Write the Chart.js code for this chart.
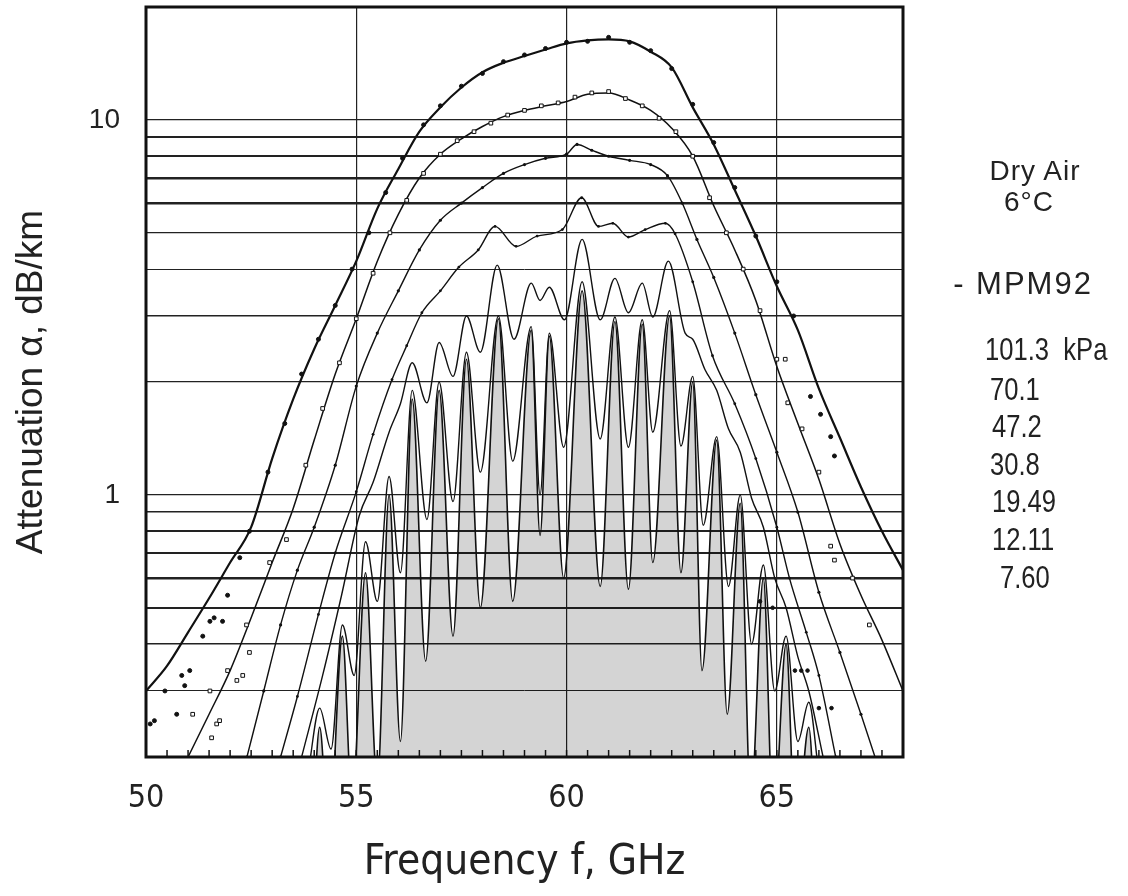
<!DOCTYPE html>
<html lang="en">
<head>
    <meta charset="UTF-8">
    <title>Dry Air 6°C - 60 GHz O2 band attenuation</title>
    <script src="https://cdn.jsdelivr.net/npm/chart.js"></script>
    <style>
        body { margin: 0; background: #fff; }
        #wrap { position: relative; width: 1128px; height: 896px; }
        .note { position: absolute; color: #222; white-space: pre; font-family: 'Liberation Sans', Arial, sans-serif; }
        .wide { font-size: 28px; line-height: 28px; letter-spacing: 1px; width: 200px; text-align: center; }
        .narrow { font-size: 32px; line-height: 32px; transform: scaleX(0.8); transform-origin: 0 0; }
    </style>
</head>
<body>
<div id="wrap">
    <canvas id="attChart" width="1128" height="896"></canvas>
    <div class="note wide" style="left:935px; top:157px;">Dry Air</div>
    <div class="note wide" style="left:929px; top:188px;">6°C</div>
    <div class="note wide" style="left:923px; top:268px; font-size:31px; line-height:31px; letter-spacing:2px;">- MPM92</div>
    <div id="plabels"></div>
</div>

<script>
    // axis ticks
    var freqTicks = [50, 55, 60, 65];
    var attTicks = [0.2, 0.3, 0.4, 0.5, 0.6, 0.7, 0.8, 0.9, 1, 2, 3, 4, 5, 6, 7, 8, 9, 10, 20];
    var attLabels = [1, 10];
    var minorFreq = [50.5, 51, 51.5, 52, 52.5, 53, 53.5, 54, 54.5, 55, 55.5, 56, 56.5, 57, 57.5, 58, 58.5,
        59, 59.5, 60, 60.5, 61, 61.5, 62, 62.5, 63, 63.5, 64, 64.5, 65, 65.5, 66, 66.5, 67, 67.5];

    // pressures of the curves, kPa (top curve first)
    var pressures = ['101.3  kPa', '70.1', '47.2', '30.8', '19.49', '12.11', '7.60'];

    // MPM92 model curves: [frequency GHz, attenuation dB/km]
    var mpm101 = [[50.0,0.30],[50.5,0.35],[51.0,0.43],[51.5,0.53],[52.0,0.66],[52.5,0.82],[53.0,1.25],[53.5,1.8],
        [54.0,2.45],[54.5,3.2],[55.0,4.2],[55.5,5.8],[56.0,7.4],[56.5,9.3],[57.0,10.8],[57.5,12.2],[58.0,13.4],
        [58.5,14.2],[59.0,14.8],[59.5,15.4],[60.0,16.0],[60.5,16.3],[61.0,16.4],[61.5,16.2],[62.0,15.2],[62.5,13.8],
        [63.0,10.8],[63.5,8.6],[64.0,6.5],[64.5,4.9],[65.0,3.6],[65.5,2.75],[66.0,1.92],[66.5,1.42],[67.0,1.05],
        [67.5,0.8],[68.0,0.63]];
    var mpm70 = [[51.0,0.2],[51.5,0.26],[52.0,0.34],[52.5,0.47],[53.0,0.66],[53.5,0.92],[54.0,1.4],[54.5,2.1],
        [55.0,2.95],[55.5,4.2],[56.0,5.6],[56.5,7.0],[57.0,8.1],[57.5,8.9],[58.0,9.6],[58.5,10.2],[59.0,10.6],
        [59.5,10.9],[60.0,11.2],[60.5,11.7],[61.0,11.8],[61.5,11.3],[62.0,10.6],[62.5,9.5],[63.0,8.0],[63.5,5.9],
        [64.0,4.5],[64.5,3.3],[65.0,2.2],[65.5,1.55],[66.0,1.1],[66.5,0.74],[67.0,0.54],[67.5,0.41],[68.0,0.3]];
    var mpm47 = [[52.4,0.2],[52.8,0.3],[53.2,0.45],[53.6,0.63],[54.0,0.82],[54.5,1.2],[55.0,1.95],[55.5,2.7],
        [56.0,3.5],[56.5,4.5],[57.0,5.4],[57.5,6.0],[58.0,6.6],[58.5,7.2],[59.0,7.6],[59.5,7.9],[60.0,8.1],
        [60.25,8.6],[60.6,8.3],[61.0,8.0],[61.5,7.8],[62.0,7.6],[62.4,7.1],[62.75,6.0],[63.1,4.8],[63.5,3.8],
        [64.0,2.7],[64.5,1.85],[65.0,1.3],[65.5,0.9],[66.0,0.55],[66.5,0.38],[67.0,0.26],[67.4,0.19]];
    var mpm30 = [[53.2,0.2],[53.6,0.29],[54.1,0.48],[54.5,0.7],[55.0,1.02],[55.4,1.45],[55.85,2.03],[56.2,2.5],
        [56.56,3.06],[57.0,3.5],[57.44,4.05],[57.9,4.5],[58.3,5.2],[58.8,4.6],[59.3,4.9],[59.9,5.1],[60.36,6.2],
        [60.76,5.2],[61.1,5.3],[61.47,4.87],[61.87,5.1],[62.35,5.3],[62.58,4.97],[63.0,3.7],[63.47,2.35],
        [64.0,1.75],[64.5,1.25],[65.0,0.82],[65.3,0.6],[65.7,0.43],[66.0,0.33],[66.4,0.2]];
    var mpm19 = [[53.7,0.2],[54.2,0.33],[54.65,0.54],[55.07,0.88],[55.4,1.08],[55.78,1.47],[56.05,1.75],
        [56.33,2.25],[56.68,1.76],[56.97,2.55],[57.3,2.07],[57.62,3.0],[57.95,2.4],[58.35,4.1],[58.75,2.6],
        [59.16,3.67],[59.37,3.3],[59.59,3.58],[59.95,2.93],[60.37,4.8],[60.8,2.93],[61.15,3.78],[61.47,3.06],
        [61.8,3.67],[62.05,2.98],[62.42,4.2],[62.82,2.7],[63.0,2.6],[63.29,2.16],[63.57,1.9],[63.85,1.5],
        [64.13,1.3],[64.4,0.98],[64.68,0.82],[64.95,0.6],[65.22,0.5],[65.5,0.37],[65.76,0.3],[66.1,0.2]];
    var mpm12 = [[53.85,0.18],[54.13,0.27],[54.4,0.21],[54.67,0.45],[54.95,0.33],[55.22,0.75],[55.5,0.52],
        [55.78,1.12],[56.05,0.62],[56.33,1.9],[56.68,0.86],[56.97,2.0],[57.3,0.96],[57.62,2.4],[57.95,1.15],
        [58.38,3.0],[58.72,1.23],[59.16,2.81],[59.37,1.0],[59.59,2.7],[59.93,1.34],[60.37,3.7],[60.8,1.41],
        [61.15,2.98],[61.47,1.34],[61.8,2.93],[62.05,1.47],[62.45,3.1],[62.72,1.35],[63.0,2.07],[63.25,0.83],
        [63.57,1.43],[63.85,0.57],[64.13,1.0],[64.4,0.4],[64.68,0.65],[64.95,0.3],[65.22,0.42],[65.5,0.22],
        [65.76,0.28],[66.0,0.18]];
    var mpm7 = [[53.95,0.12],[54.13,0.24],[54.35,0.12],[54.67,0.42],[54.9,0.15],[55.22,0.62],[55.5,0.17],
        [55.78,1.0],[56.05,0.22],[56.33,1.8],[56.65,0.36],[56.97,1.9],[57.3,0.42],[57.62,2.3],[57.95,0.5],
        [58.38,2.95],[58.72,0.52],[59.16,2.75],[59.37,0.78],[59.59,2.65],[59.93,0.6],[60.37,3.5],[60.8,0.57],
        [61.15,2.9],[61.47,0.56],[61.8,2.85],[62.05,0.66],[62.45,3.0],[62.72,0.62],[63.0,2.0],[63.22,0.34],
        [63.57,1.4],[63.82,0.26],[64.13,0.95],[64.38,0.15],[64.68,0.6],[64.92,0.13],[65.22,0.4],[65.45,0.12],
        [65.76,0.24],[65.95,0.1]];

    // measured points
    var meas101 = [[50.1,0.245],[50.2,0.25],[50.45,0.30],[50.73,0.26],[50.85,0.33],[50.92,0.31],[51.04,0.34],
        [51.35,0.42],[51.52,0.46],[51.62,0.47],[51.82,0.46],[51.94,0.54],[52.23,0.68],[52.46,0.8],[52.9,1.15],
        [53.3,1.55],[53.7,2.1],[54.1,2.6],[54.5,3.2],[54.9,4.0],[55.3,5.0],[55.7,6.4],[56.1,7.9],[56.6,9.7],
        [57.0,10.9],[57.5,12.3],[58.0,13.3],[58.5,14.3],[59.0,14.9],[59.5,15.5],[60.0,16.1],[60.5,16.2],
        [61.0,16.6],[61.5,16.1],[62.0,15.3],[62.5,13.7],[63.0,11.0],[63.5,8.7],[64.0,6.6],[64.5,4.9],[65.0,3.7],
        [65.4,3.0],[65.8,1.83],[66.04,1.64],[66.28,1.43],[66.37,1.27]];
    var meas70 = [[51.11,0.26],[51.52,0.30],[51.56,0.225],[51.68,0.245],[51.75,0.25],[51.94,0.34],[52.16,0.32],
        [52.3,0.33],[52.39,0.45],[52.46,0.38],[52.94,0.66],[53.34,0.76],[53.8,1.2],[54.2,1.7],[54.6,2.25],
        [55.0,2.95],[55.4,3.9],[55.8,5.0],[56.2,6.1],[56.6,7.2],[57.0,8.1],[57.4,8.8],[57.8,9.3],[58.2,9.8],
        [58.6,10.3],[59.0,10.6],[59.4,10.9],[59.8,11.1],[60.2,11.5],[60.6,11.8],[61.0,11.9],[61.4,11.4],
        [61.8,10.9],[62.2,10.1],[62.6,9.3],[63.0,8.0],[63.4,6.2],[63.8,5.0],[64.2,4.0],[64.6,3.1],[65.0,2.3],
        [65.2,2.3],[65.26,1.76],[65.6,1.5],[66.0,1.15],[66.28,0.73],[66.37,0.67],[66.8,0.6],[67.2,0.45]];
    var meas47 = [[65.43,0.34],[65.58,0.34],[65.73,0.34],[66.0,0.27],[66.3,0.27],[64.6,0.52],[64.9,0.5]];

    var gridWidth = {0.3: 1, 0.4: 1.5, 0.5: 2, 0.6: 2.5, 0.7: 2, 0.8: 2, 0.9: 1.5, 1: 1.2, 2: 1.2, 3: 1.5,
        4: 1, 5: 1.2, 6: 2.5, 7: 2.5, 8: 2, 9: 2, 10: 1.2};

    var narrowFont = "'DejaVu Sans Condensed', 'Liberation Sans', sans-serif";
    var plainFont = "'Liberation Sans', Arial, sans-serif";

    function toXY(arr) {
        return arr.map(function (p) { return {x: p[0], y: p[1]}; });
    }

    function curve(arr, width, extra) {
        var ds = {
            data: toXY(arr),
            borderColor: '#111',
            borderWidth: width,
            pointRadius: 0,
            cubicInterpolationMode: 'monotone',
            fill: false
        };
        return Object.assign(ds, extra || {});
    }

    function points(arr, style, radius, bg) {
        return {
            data: toXY(arr),
            showLine: false,
            pointStyle: style,
            pointRadius: radius,
            pointBorderWidth: 1,
            pointBorderColor: '#111',
            pointBackgroundColor: bg
        };
    }

    // frame and inner minor ticks on the frequency axis
    var framePlugin = {
        id: 'frame',
        afterDraw: function (chart) {
            var ctx = chart.ctx, a = chart.chartArea, x = chart.scales.x;
            ctx.save();
            ctx.strokeStyle = '#111';
            ctx.lineWidth = 1.5;
            minorFreq.forEach(function (f) {
                var px = x.getPixelForValue(f);
                ctx.beginPath();
                ctx.moveTo(px, a.bottom);
                ctx.lineTo(px, a.bottom - 7);
                ctx.stroke();
            });
            ctx.lineWidth = 3;
            ctx.strokeRect(a.left, a.top, a.right - a.left, a.bottom - a.top);
            ctx.restore();
        }
    };

    var ctx = document.getElementById('attChart').getContext('2d');
    var attChart = new Chart(ctx, {
        type: 'line',
        data: {
            datasets: [
                points(meas101, 'circle', 2, '#111'),
                points(meas70, 'rect', 2.6, '#fff'),
                points(meas47, 'circle', 1.8, '#111'),
                curve(mpm101, 2.2),
                curve(mpm70, 1.5),
                curve(mpm47, 1.4, {pointRadius: 1.6, pointBackgroundColor: '#111', pointBorderWidth: 0}),
                curve(mpm30, 1.4, {pointRadius: 1.4, pointBackgroundColor: '#111', pointBorderWidth: 0}),
                curve(mpm19, 1.4),
                curve(mpm12, 1.4),
                curve(mpm7, 1.6, {fill: 'start', backgroundColor: 'rgba(0,0,0,0.17)'})
            ]
        },
        options: {
            responsive: false,
            animation: false,
            layout: { padding: { top: 7, right: 225, bottom: 0, left: 0 } },
            plugins: {
                legend: { display: false },
                tooltip: { enabled: false }
            },
            scales: {
                x: {
                    type: 'linear',
                    min: 50,
                    max: 68,
                    afterBuildTicks: function (scale) {
                        scale.ticks = freqTicks.map(function (v) { return {value: v}; });
                    },
                    afterFit: function (scale) {
                        scale.height = 139;
                        scale.paddingLeft = 0;
                        scale.paddingRight = 0;
                    },
                    border: { display: false },
                    grid: {
                        drawTicks: false,
                        color: function (c) { return c.tick && c.tick.value === 50 ? 'rgba(0,0,0,0)' : '#222'; },
                        lineWidth: 1.2
                    },
                    ticks: {
                        padding: 22,
                        color: '#222',
                        font: { family: narrowFont, size: 32 },
                        maxRotation: 0,
                        autoSkip: false
                    },
                    title: {
                        display: true,
                        text: 'Frequency f, GHz',
                        color: '#222',
                        font: { family: narrowFont, size: 42 },
                        padding: { top: 0, bottom: 8 }
                    }
                },
                y: {
                    type: 'logarithmic',
                    min: 0.2,
                    max: 20,
                    afterBuildTicks: function (scale) {
                        scale.ticks = attTicks.map(function (v) { return {value: v}; });
                    },
                    afterFit: function (scale) {
                        scale.width = 146;
                        scale.paddingTop = 0;
                        scale.paddingBottom = 0;
                    },
                    border: { display: false },
                    grid: {
                        drawTicks: false,
                        color: '#222',
                        lineWidth: function (c) {
                            return c.tick ? (gridWidth[c.tick.value] || 0) : 1;
                        }
                    },
                    ticks: {
                        padding: 26,
                        color: '#222',
                        autoSkip: false,
                        font: { family: plainFont, size: 28 },
                        callback: function (v) {
                            return attLabels.indexOf(v) >= 0 ? String(v) : '';
                        }
                    },
                    title: {
                        display: true,
                        text: 'Attenuation α, dB/km',
                        color: '#222',
                        font: { family: plainFont, size: 37 },
                        padding: { top: 10, bottom: 0 }
                    }
                }
            }
        },
        plugins: [framePlugin]
    });

    // pressure list at the right
    var pTops = [333, 373, 410, 448, 485, 523, 561];
    var pLeft = [985, 990, 992, 990, 992, 992, 1000];
    var holder = document.getElementById('plabels');
    pressures.forEach(function (p, i) {
        var d = document.createElement('div');
        d.className = 'note narrow';
        d.style.left = pLeft[i] + 'px';
        d.style.top = pTops[i] + 'px';
        d.textContent = p;
        holder.appendChild(d);
    });
</script>
</body>
</html>
